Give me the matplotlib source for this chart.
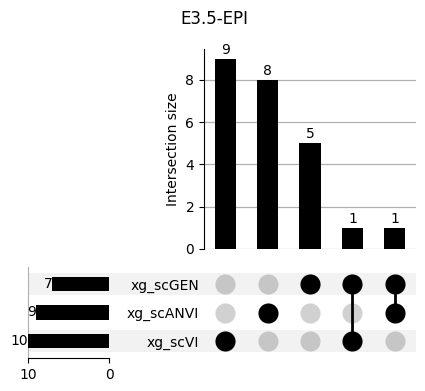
import matplotlib
matplotlib.use("Agg")
import matplotlib.pyplot as plt
from matplotlib.patches import Rectangle
import matplotlib.transforms as mtransforms

title = "E3.5-EPI"
sets = ["xg_scVI", "xg_scANVI", "xg_scGEN"]          # bottom to top
set_totals = [10, 9, 7]
intersection_sizes = [9, 8, 5, 1, 1]
memberships = [
    ["xg_scVI"],
    ["xg_scANVI"],
    ["xg_scGEN"],
    ["xg_scGEN", "xg_scVI"],
    ["xg_scGEN", "xg_scANVI"],
]

W, H = 425, 391
fig = plt.figure(figsize=(W / 100, H / 100), dpi=100)

def ax_px(x0, y0, x1, y1):
    return fig.add_axes([x0 / W, 1 - y1 / H, (x1 - x0) / W, (y1 - y0) / H])

ax_bar = ax_px(204, 49, 416, 249)
ax_mat = ax_px(204, 267, 416, 358)
ax_tot = ax_px(28, 267, 109, 358)

n = len(intersection_sizes)
xs = list(range(n))

# Intersection bars
ax_bar.bar(xs, intersection_sizes, width=0.5, color="black", zorder=3)
for x, v in zip(xs, intersection_sizes):
    ax_bar.text(x, v + 0.08, str(v), ha="center", va="bottom", fontsize=10)
ax_bar.set_xlim(-0.5, n - 0.5)
ax_bar.set_ylim(0, max(intersection_sizes) * 1.05)
ax_bar.set_yticks([0, 2, 4, 6, 8])
ax_bar.yaxis.grid(True, color="#b0b0b0", linewidth=0.9, zorder=0)
ax_bar.set_axisbelow(True)
ax_bar.set_xticks([])
for s in ["top", "right", "bottom"]:
    ax_bar.spines[s].set_visible(False)
ax_bar.set_ylabel("Intersection size", fontsize=10)

# Matrix
nrows = len(sets)
ax_mat.set_xlim(-0.5, n - 0.5)
ax_mat.set_ylim(-0.6, nrows - 0.4)
for s in ax_mat.spines.values():
    s.set_visible(False)
ax_mat.set_xticks([])
ax_mat.set_yticks(range(nrows))
ax_mat.set_yticklabels(sets, fontsize=10)
ax_mat.tick_params(axis="y", length=0, pad=3.5)

# shading across totals + matrix
trans = mtransforms.blended_transform_factory(fig.transFigure, ax_mat.transData)
for i in range(nrows):
    if i % 2 == 0:
        r = Rectangle((28 / W, i - 0.39), (416 - 28) / W, 0.78, transform=trans,
                      facecolor=(0, 0, 0, 0.05), edgecolor="none", zorder=0, clip_on=False)
        fig.add_artist(r)

for x, mem in enumerate(memberships):
    ys_active = [sets.index(m) for m in mem]
    for y in range(nrows):
        if y in ys_active:
            ax_mat.scatter(x, y, s=210, color="black", zorder=4, linewidths=0)
        else:
            ax_mat.scatter(x, y, s=210, color=(0, 0, 0, 0.18), zorder=3, linewidths=0)
    if len(ys_active) > 1:
        ax_mat.plot([x, x], [min(ys_active), max(ys_active)], color="black",
                    linewidth=2, zorder=3)
ax_mat.patch.set_alpha(0)

# Totals
ax_tot.barh(range(nrows), set_totals, height=0.5, color="black", zorder=3)
ax_tot.set_xlim(max(set_totals), 0)
ax_tot.set_ylim(-0.6, nrows - 0.4)
for y, v in enumerate(set_totals):
    ax_tot.text(v, y, str(v), ha="right", va="center", fontsize=10, zorder=4)
ax_tot.set_xticks([10, 0])
ax_tot.set_yticks([])
for s in ["top", "right"]:
    ax_tot.spines[s].set_visible(False)
ax_tot.spines["left"].set_color("#b0b0b0")
ax_tot.patch.set_alpha(0)

fig.suptitle(title, fontsize=12, x=0.505, y=0.975)

fig.savefig("out.png", dpi=100)
